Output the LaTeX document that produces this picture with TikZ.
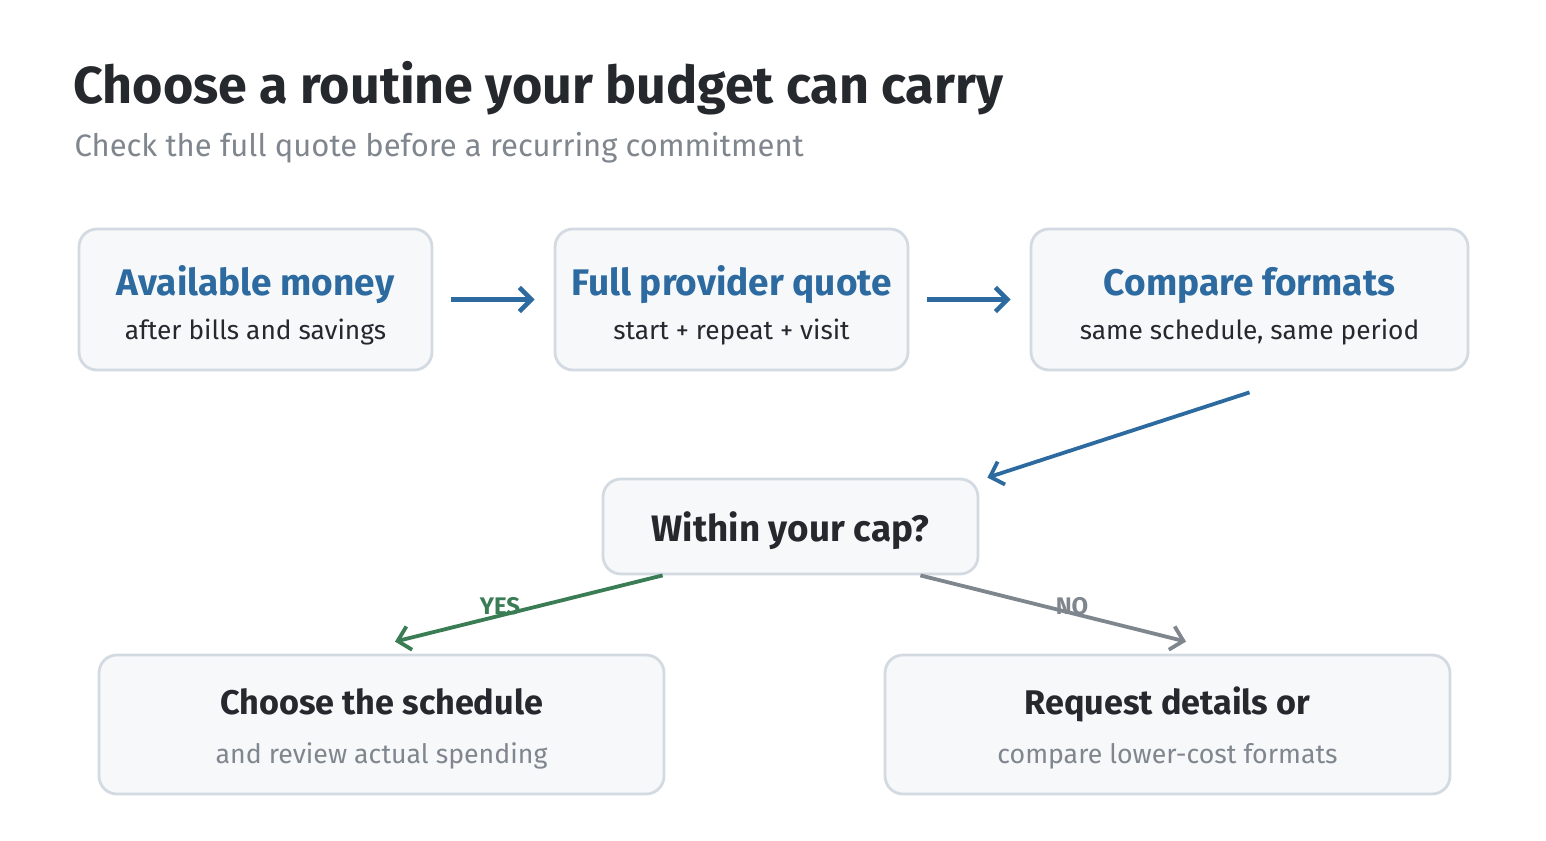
\documentclass[tikz,border=0pt]{standalone}
\usepackage{fontspec}
\setmainfont{Fira Sans}
\usetikzlibrary{arrows.meta}

\definecolor{ink}{RGB}{37,40,45}
\definecolor{mute}{RGB}{128,134,142}
\definecolor{flowblue}{RGB}{44,106,160}
\definecolor{yesgreen}{RGB}{58,125,85}
\definecolor{paper}{RGB}{246,248,250}
\definecolor{edge}{RGB}{211,218,225}

\newcommand\fs[1]{\fontsize{#1}{#1}\selectfont}

\tikzset{
  card/.style={draw=edge, fill=paper, line width=2.8pt, rounded corners=18pt, inner sep=0pt},
  head/.style={anchor=base, text=flowblue, font=\fs{37}\bfseries},
  plain/.style={anchor=base, text=ink, font=\fs{26.3}},
  dark/.style={anchor=base, text=ink, font=\fs{34.2}\bfseries},
  soft/.style={anchor=base, text=mute, font=\fs{26.7}},
  tag/.style={anchor=base, font=\fs{24}\bfseries},
  flow/.style={line width=4.5pt, -{Straight Barb[length=12pt,width=24pt]}},
}

\begin{document}
\begin{tikzpicture}[x=1pt, y=-1pt]
  \fill[white] (0,0) rectangle (1546,840);
  \useasboundingbox (0,0) rectangle (1546,840);

  \node[anchor=base west, text=ink, font=\fs{52}\bfseries] (title) at (70,103) {Choose a routine your budget can carry};
  \node[anchor=base west, text=mute, font=\fs{31}] (subtitle) at (71,156) {Check the full quote before a recurring commitment};

  %% top row
  \node[card, minimum width=353pt, minimum height=141pt] (avail) at (255.5,299.5) {};
  \node[card, minimum width=353pt, minimum height=141pt] (quote) at (731.5,299.5) {};
  \node[card, minimum width=437pt, minimum height=141pt] (formats) at (1249.5,299.5) {};
  \node[head] (availH) at (255.5,295) {Available money};
  \node[plain] (availS) at (255.5,339) {after bills and savings};
  \node[head] (quoteH) at (731.5,295) {Full provider quote};
  \node[plain] (quoteS) at (731.5,339) {start + repeat + visit};
  \node[head] (formatsH) at (1249.5,295) {Compare formats};
  \node[plain] (formatsS) at (1249.5,339) {same schedule, same period};

  %% decision
  \node[card, minimum width=375pt, minimum height=95pt] (cap) at (790.5,526.5) {};
  \node[dark, font=\fs{36.8}\bfseries] (capT) at (790.5,541) {Within your cap?};

  %% outcomes
  \node[card, minimum width=565pt, minimum height=139pt] (yes) at (381.5,724.5) {};
  \node[card, minimum width=565pt, minimum height=139pt] (no) at (1167.5,724.5) {};
  \node[dark] (yesH) at (381.5,714) {Choose the schedule};
  \node[soft] (yesS) at (381.5,763) {and review actual spending};
  \node[dark] (noH) at (1167.5,714) {Request details or};
  \node[soft] (noS) at (1167.5,763) {compare lower-cost formats};

  \draw[flow, flowblue] ([xshift=18pt]avail.east) -- ([xshift=-19pt]quote.west); %% avail quote
  \draw[flow, flowblue] ([xshift=18pt]quote.east) -- ([xshift=-19pt]formats.west); %% quote formats
  \draw[flow, flowblue, line width=3.8pt] ([yshift=-21pt]formats.south) -- ([xshift=8pt]cap.north east); %% formats cap
  \draw[flow, yesgreen, line width=3.8pt] ([xshift=61pt]cap.south west) -- ([shift={(13.5pt,12pt)}]yes.north); %% cap yes
  \draw[flow, mute, line width=3.8pt] ([xshift=-59pt]cap.south east) -- ([shift={(18.5pt,12pt)}]no.north); %% cap no

  \node[tag, text=yesgreen] (yesL) at (500,614) {YES};
  \node[tag, text=mute] (noL) at (1072,614) {NO};
\end{tikzpicture}
\end{document}
